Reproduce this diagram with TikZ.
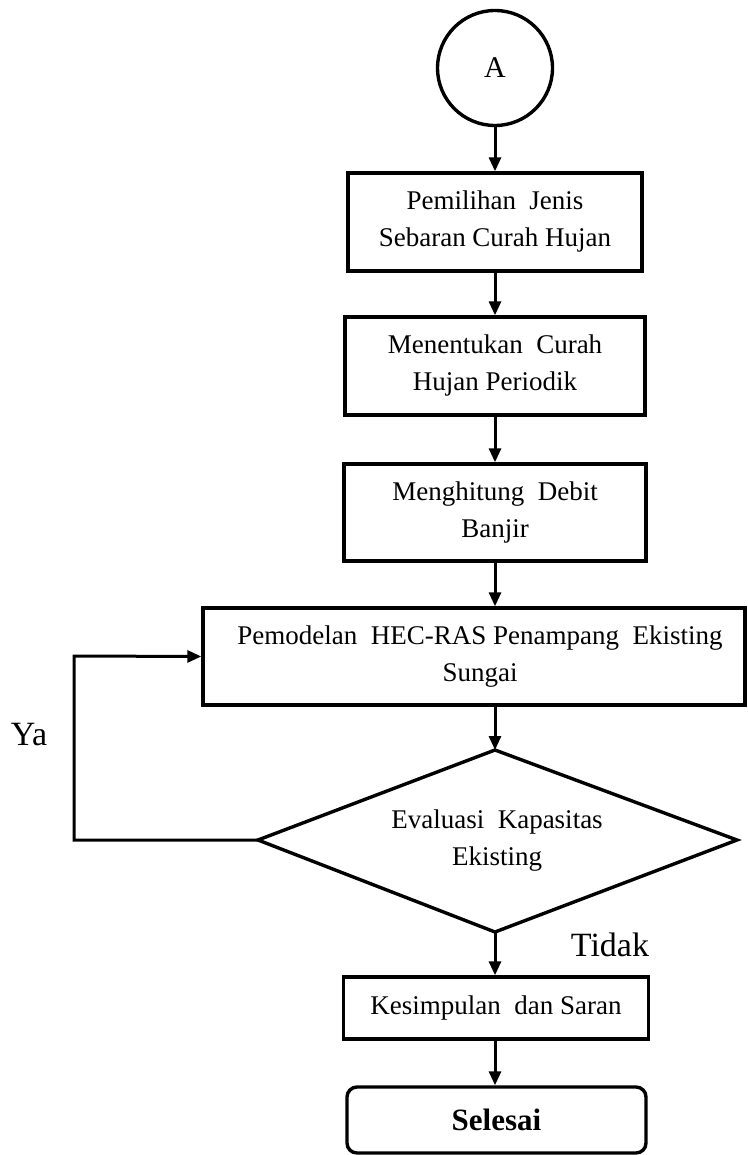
\documentclass[tikz,border=0pt]{standalone}
\usepackage{fontspec}
\setmainfont{Liberation Serif}
\usetikzlibrary{arrows.meta}
\begin{document}
\begin{tikzpicture}[x=1pt,y=-1pt,
  every node/.style={font=\fontsize{27}{37}\selectfont},
  boxed/.style={draw,line width=3.4pt,rectangle,align=center,inner sep=0pt},
  arr/.style={line width=3pt,-{Triangle[length=14pt,width=12pt]}},
  lbl/.style={font=\fontsize{34}{36}\selectfont}]
\useasboundingbox (0,0) rectangle (747,1155);
\node[draw,circle,line width=3.4pt,minimum size=115pt,inner sep=0pt,font=\fontsize{30}{32}\selectfont] (a) at (495,68) {A};
\node[boxed,minimum width=294pt,minimum height=98pt] (b1) at (495,222) {Pemilihan\ \ Jenis\\Sebaran\ Curah\ Hujan};
\node[boxed,minimum width=300pt,minimum height=98pt] (b2) at (495,366) {Menentukan\ \ Curah\\Hujan\ Periodik};
\node[boxed,minimum width=302pt,minimum height=97pt] (b3) at (495,512.5) {Menghitung\ \ Debit\\Banjir};
\node[boxed,minimum width=542pt,minimum height=97pt] (b4) at (474,656.5) {\hspace*{12pt}Pemodelan\ \ HEC-RAS Penampang\ \ Ekisting\\\hspace*{12pt}Sungai};
\coordinate (dt) at (495,750);
\coordinate (dl) at (258,840);
\coordinate (dr) at (737,840);
\coordinate (db) at (495,932);
\draw[line width=3.4pt,line join=miter] (dt) -- (dr) -- (db) -- (dl) -- cycle;
\node[align=center] (d) at (497,841) {Evaluasi\ \ Kapasitas\\Ekisting};
\node[boxed,minimum width=305pt,minimum height=62pt] (b5) at (496,1008) {Kesimpulan\ \ dan Saran};
\node[draw,line width=3.4pt,rounded corners=10pt,minimum width=299pt,minimum height=66pt,inner sep=0pt,font=\bfseries\fontsize{31}{34}\selectfont] (e) at (496.5,1120) {Selesai};
\coordinate (lp) at (74,656);
\node[lbl] (ya) at (29,735) {Ya};
\node[lbl] (tidak) at (610,945) {Tidak};
\draw[arr] (a.south) -- (a.south |- b1.north);
\draw[arr] (a.south |- b1.south) -- (a.south |- b2.north);
\draw[arr] (a.south |- b2.south) -- (a.south |- b3.north);
\draw[arr] (a.south |- b3.south) -- (a.south |- b4.north);
\draw[arr] (a.south |- b4.south) -- (dt);
\draw[arr] (db) -- (a.south |- b5.north);
\draw[arr] (a.south |- b5.south) -- (a.south |- e.north);
\draw[arr] (dl) -| (lp) -- (b4.west);
\end{tikzpicture}
\end{document}
